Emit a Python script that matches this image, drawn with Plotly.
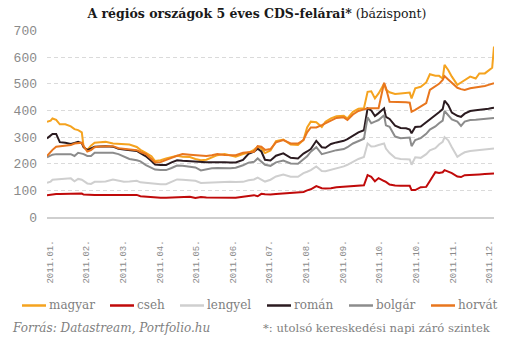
import plotly.graph_objects as go

# Trading-day index of each observation (2011)
day = [0, 2, 3, 5, 7, 10, 13, 15, 17, 19, 20, 22, 24, 26, 29, 32, 36, 39, 42, 45,
       49, 51, 54, 57, 59, 62, 65, 68, 71, 74, 78, 81, 84, 87, 90, 93, 97, 100, 103, 107,
       110, 113, 115, 117, 119, 122, 125, 129, 133, 137, 140, 142, 144, 147, 150, 152, 155, 158, 162, 164,
       167, 170, 173, 175, 177, 179, 181, 184, 185, 187, 190, 193, 196, 198, 199, 201, 204, 207, 209, 212,
       214, 216, 217, 219, 221, 224, 226, 228, 231, 234, 236, 239, 241, 243, 244]

magyar = [357, 362, 370, 365, 348, 348, 340, 330, 326, 318, 262, 252, 268, 279, 281, 282, 276, 274, 273, 272,
          263, 252, 241, 228, 210, 213, 220, 225, 230, 226, 225, 218, 213, 215, 225, 232, 236, 230, 226, 236,
          242, 252, 264, 257, 240, 250, 285, 291, 272, 270, 289, 336, 358, 356, 338, 358, 370, 378, 380, 370,
          395, 406, 408, 470, 472, 445, 464, 500, 478, 468, 462, 464, 465, 467, 445, 483, 489, 505, 536, 530,
          530, 520, 571, 552, 527, 496, 505, 514, 527, 520, 539, 539, 548, 560, 640]

cseh = [82, 84, 85, 86, 86, 86, 86, 86, 87, 88, 84, 83, 83, 83, 83, 83, 83, 83, 83, 83,
        83, 78, 76, 73, 72, 72, 72, 73, 76, 76, 76, 71, 75, 73, 73, 72, 73, 72, 72, 76,
        78, 82, 78, 87, 85, 84, 86, 88, 90, 92, 94, 100, 104, 116, 108, 107, 108, 112, 114, 116,
        117, 117, 119, 157, 151, 134, 146, 135, 132, 122, 118, 117, 117, 117, 101, 101, 112, 113, 135, 168,
        165, 168, 176, 171, 165, 152, 150, 157, 159, 160, 160, 161, 162, 163, 163]

lengyel = [128, 133, 140, 141, 141, 143, 145, 134, 143, 140, 135, 126, 124, 132, 132, 133, 141, 137, 132, 133,
           136, 130, 128, 126, 123, 123, 123, 132, 141, 140, 138, 136, 128, 129, 130, 130, 131, 132, 131, 132,
           138, 141, 148, 142, 133, 140, 152, 159, 151, 151, 165, 170, 176, 190, 173, 172, 177, 182, 190, 196,
           207, 218, 225, 276, 265, 266, 270, 276, 257, 240, 222, 218, 217, 216, 196, 224, 222, 236, 250, 258,
           272, 282, 300, 288, 262, 226, 235, 243, 248, 250, 251, 252, 254, 256, 257]

roman = [295, 305, 312, 312, 281, 279, 274, 278, 282, 277, 262, 251, 257, 264, 265, 266, 264, 256, 253, 251,
         248, 240, 228, 210, 197, 195, 195, 205, 213, 211, 209, 207, 207, 206, 206, 207, 206, 205, 205, 214,
         237, 245, 256, 246, 215, 212, 230, 239, 222, 220, 238, 246, 255, 286, 262, 260, 274, 280, 286, 292,
         305, 318, 326, 408, 400, 379, 390, 408, 376, 368, 343, 334, 333, 328, 314, 338, 340, 355, 368, 380,
         393, 405, 437, 420, 392, 380, 376, 388, 398, 401, 402, 404, 406, 409, 410]

bolgar = [224, 232, 234, 236, 236, 236, 236, 229, 241, 238, 236, 229, 229, 241, 241, 241, 241, 236, 226, 218,
          213, 209, 195, 186, 178, 176, 176, 184, 193, 192, 190, 186, 175, 180, 183, 184, 183, 183, 185, 194,
          204, 207, 220, 208, 196, 192, 205, 212, 201, 200, 215, 228, 245, 262, 236, 240, 246, 251, 255, 262,
          276, 286, 294, 374, 352, 358, 364, 382, 344, 339, 302, 296, 296, 298, 266, 289, 296, 312, 328, 340,
          352, 362, 398, 384, 366, 358, 342, 358, 364, 365, 366, 367, 369, 370, 372]

horvat = [229, 245, 252, 264, 265, 266, 270, 276, 278, 279, 266, 246, 251, 262, 265, 266, 266, 258, 256, 254,
          251, 244, 236, 218, 205, 206, 213, 222, 230, 236, 234, 232, 230, 229, 232, 236, 233, 232, 232, 241,
          242, 245, 266, 264, 252, 255, 280, 289, 276, 276, 289, 318, 336, 336, 345, 352, 364, 372, 374, 364,
          385, 398, 404, 408, 408, 408, 408, 504, 485, 433, 433, 433, 431, 429, 395, 402, 414, 428, 477, 489,
          500, 515, 529, 516, 505, 485, 480, 477, 483, 486, 489, 492, 496, 499, 502]

series_names = ["magyar", "cseh", "lengyel", "román", "bolgár", "horvát"]
series_values = [magyar, cseh, lengyel, roman, bolgar, horvat]
series_colors = ["#F5A31F", "#C00A0A", "#CFCFCF", "#2B1B20", "#8C8C8C", "#E8761E"]

tick_days = [1.5 + 20 * k for k in range(13)]
tick_labels = ["2011.01.", "2011.02.", "2011.03.", "2011.04.", "2011.05.", "2011.06.", "2011.07.",
               "2011.08.", "2011.09.", "2011.10.", "2011.10.", "2011.11.", "2011.12."]

# page geometry (pixels) used to place the key and the footnotes below the plot area
W, H = 532, 349
PL, PR, PT, PB = 47, 38, 30, 132
plot_w = W - PL - PR
plot_h = H - PT - PB


def px_x(x):
    return (x - PL) / plot_w


def px_y(y):
    return (H - PB - y) / plot_h


serif = "DejaVu Serif"
mono = "Liberation Mono"
key_grey = "#7f7f7f"

fig = go.Figure()
for name, vals, col in zip(series_names, series_values, series_colors):
    fig.add_trace(go.Scatter(x=day, y=vals, name=name, mode="lines",
                             line=dict(color=col, width=2), showlegend=False))

# horizontal key under the date labels
key_left = [22, 110, 180, 267, 349, 431]
key_y = 305.5
shapes = []
annotations = []
for name, col, x0 in zip(series_names, series_colors, key_left):
    shapes.append(dict(type="line", xref="paper", yref="paper",
                       x0=px_x(x0), x1=px_x(x0 + 24), y0=px_y(key_y), y1=px_y(key_y),
                       line=dict(color=col, width=2.5)))
    annotations.append(dict(text=name, xref="paper", yref="paper",
                            x=px_x(x0 + 25), y=px_y(key_y - 1), xanchor="left", yanchor="middle",
                            showarrow=False, font=dict(family=serif, size=12, color=key_grey)))

annotations += [
    dict(text="<i>Forrás: Datastream, Portfolio.hu</i>",
         xref="paper", yref="paper", x=px_x(10), y=px_y(327.5),
         xanchor="left", yanchor="middle", showarrow=False,
         font=dict(family=serif, size=12, color=key_grey)),
    dict(text="*: utolsó kereskedési napi záró szintek",
         xref="paper", yref="paper", x=px_x(261), y=px_y(327.5),
         xanchor="left", yanchor="middle", showarrow=False,
         font=dict(family=serif, size=11.6, color=key_grey)),
]

fig.update_layout(
    width=W, height=H,
    margin=dict(l=PL, r=PR, t=PT, b=PB, pad=0),
    paper_bgcolor="white", plot_bgcolor="white",
    title=dict(
        text="<b>A régiós országok 5 éves CDS-felárai*</b> (bázispont)",
        font=dict(family=serif, size=12.5, color="#1a1a1a"),
        xref="container", x=0.483, xanchor="center",
        yref="container", y=1 - 14 / H, yanchor="middle",
    ),
    xaxis=dict(
        range=[0, 244],
        tickmode="array", tickvals=tick_days, ticktext=tick_labels,
        tickangle=-90,
        tickfont=dict(family=mono, size=9, color="#8a8a8a"),
        ticklabelstandoff=18,
        showgrid=False, zeroline=False,
        showline=True, linecolor="#CFCFCF", linewidth=1.5,
        ticks="",
    ),
    yaxis=dict(
        range=[0, 702],
        tickmode="array", tickvals=[0, 100, 200, 300, 400, 500, 600, 700],
        tickfont=dict(family=mono, size=13, color="#8a8a8a"),
        ticklabelstandoff=9,
        showgrid=True, gridcolor="#DADADA", gridwidth=1, griddash="4px,3px",
        zeroline=False, showline=False, ticks="",
    ),
    shapes=shapes,
    annotations=annotations,
)

fig.write_html("out.html")
